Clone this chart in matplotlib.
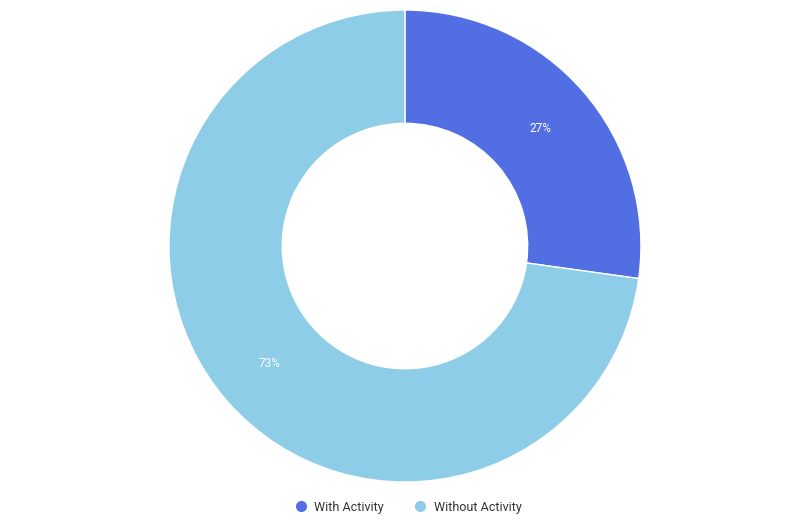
import matplotlib.pyplot as plt
from matplotlib.lines import Line2D

plt.rcParams['font.family'] = ['Roboto', 'DejaVu Sans']

# данные
labels = ['With Activity', 'Without Activity']
values = [27.2, 72.8]
colors = ['#516FE3', '#8DCDE8']

fig = plt.figure(figsize=(8.1, 5.26), dpi=100)
ax = fig.add_axes([0.2086, 0.0836, 0.5827, 0.8973])

wedges, texts, autotexts = ax.pie(
    values, colors=colors, startangle=90, counterclock=False,
    autopct='%1.0f%%', pctdistance=0.76,
    wedgeprops=dict(width=0.48, edgecolor='white', linewidth=1),
    textprops=dict(color='white', fontsize=8.5))
ax.set_xlim(-1, 1)
ax.set_ylim(-1, 1)
ax.set_aspect('equal')
ax.axis('off')

handles = [Line2D([], [], marker='o', linestyle='none', markersize=7,
                  markerfacecolor=c, markeredgecolor=c) for c in colors]
fig.legend(handles, labels, loc='center', bbox_to_anchor=(0.5, 1 - 507 / 526),
           ncol=2, frameon=False, fontsize=9, handletextpad=0.1,
           columnspacing=1.9, labelcolor='#333333')

fig.savefig('out.png')
